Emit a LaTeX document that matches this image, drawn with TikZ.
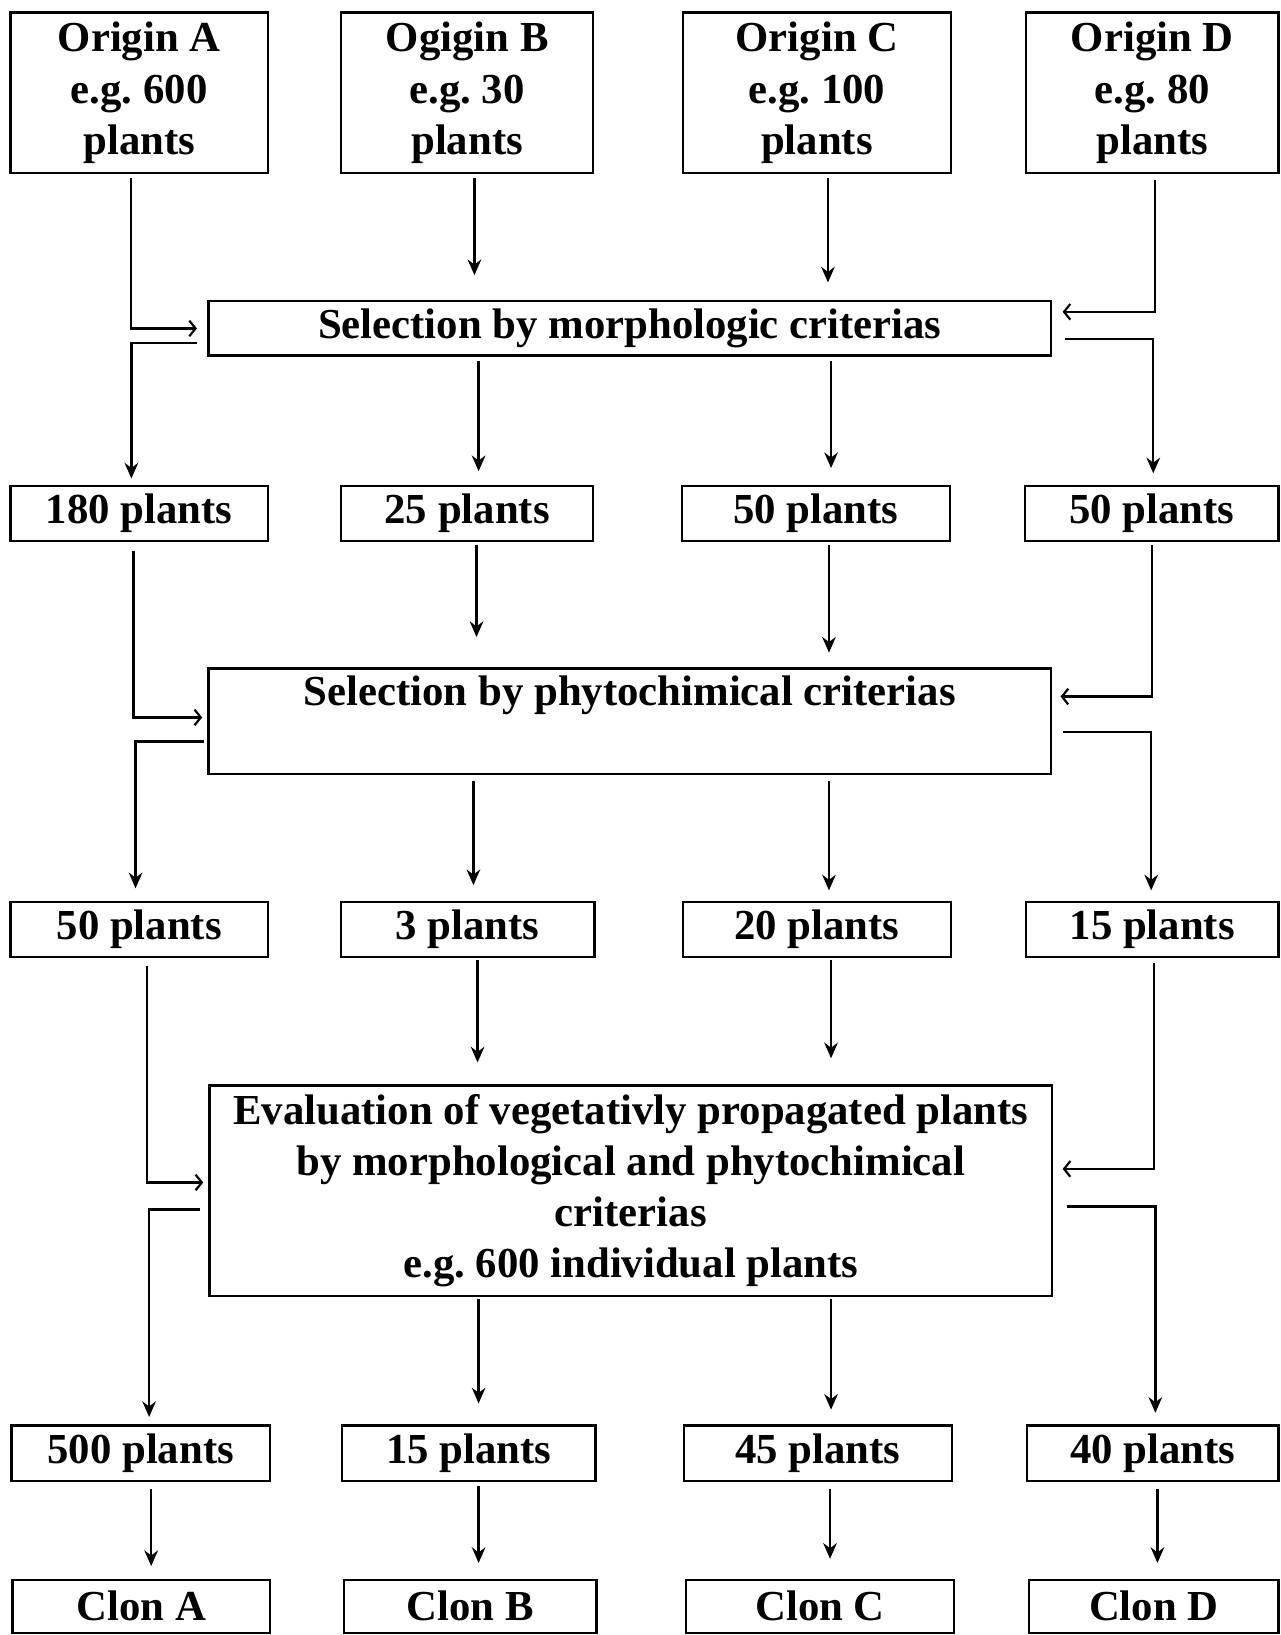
\documentclass[tikz,border=0pt]{standalone}
\usepackage{fontspec}
\setmainfont{Liberation Serif}
\frenchspacing
\usetikzlibrary{arrows.meta,calc}
\tikzset{
  box/.style={draw, line width=2.2pt, inner sep=0pt, align=center,
    font=\fontsize{41}{49}\selectfont\bfseries},
  varr/.style={line width=2.3pt, -{Stealth[length=15pt,width=13pt]}},
  harr/.style={line width=2.1pt, -{Straight Barb[length=6pt,width=15pt,line width=2.1pt]}},
}
\begin{document}
\begin{tikzpicture}[x=1pt,y=-1pt]
\useasboundingbox (0,0) rectangle (1228,1568);
% row 1
\node[box, minimum width=247, minimum height=154] (oA) at (133.5,89) {Origin A\\e.g. 600\\plants};
\node[box, minimum width=242, minimum height=154] (oB) at (448,89) {Ogigin B\\e.g. 30\\plants};
\node[box, minimum width=257, minimum height=154] (oC) at (783.5,89) {Origin C\\e.g. 100\\plants};
\node[box, minimum width=242, minimum height=154] (oD) at (1105,89) {Origin D\\e.g. 80\\plants};
% selection morph
\node[box, minimum width=808, minimum height=52] (sel) at (604,315) {Selection by morphologic criterias};
% row 2
\node[box, minimum width=247, minimum height=53] (r2a) at (133.5,492.5) {180 plants};
\node[box, minimum width=242, minimum height=53] (r2b) at (448,492.5) {25 plants};
\node[box, minimum width=257, minimum height=53] (r2c) at (782.5,492.5) {50 plants};
\node[box, minimum width=243, minimum height=53] (r2d) at (1104.5,492.5) {50 plants};
% phyto
\node[box, minimum width=808, text height=36pt, text depth=65pt] (phyto) at (604,691.5) {Selection by phytochimical criterias};
% row 3
\node[box, minimum width=247, minimum height=53] (r3a) at (133.5,891.5) {50 plants};
\node[box, minimum width=243, minimum height=53] (r3b) at (448.5,891.5) {3 plants};
\node[box, minimum width=257, minimum height=53] (r3c) at (783.5,891.5) {20 plants};
\node[box, minimum width=242, minimum height=53] (r3d) at (1105,891.5) {15 plants};
% evaluation
\node[box, minimum width=808, minimum height=202] (eval) at (605,1142) {Evaluation of vegetativly propagated plants\\by morphological and phytochimical\\criterias\\e.g. 600 individual plants};
% row 4
\node[box, minimum width=248, minimum height=53] (r4a) at (135,1393.5) {500 plants};
\node[box, minimum width=243, minimum height=53] (r4b) at (449.5,1393.5) {15 plants};
\node[box, minimum width=257, minimum height=53] (r4c) at (784.5,1393.5) {45 plants};
\node[box, minimum width=241, minimum height=53] (r4d) at (1105.5,1393.5) {40 plants};
% row 5
\node[box, minimum width=247, minimum height=51] (cA) at (135.5,1540.5) {Clon A};
\node[box, minimum width=242, minimum height=51] (cB) at (451,1540.5) {Clon B};
\node[box, minimum width=257, minimum height=51] (cC) at (786.5,1540.5) {Clon C};
\node[box, minimum width=239, minimum height=51] (cD) at (1106.5,1540.5) {Clon D};

% connectors: origins -> selection
\draw[harr] ($(oA.south)+(-7.5,4)$) |- ($(sel.west)+(-10,0)$);
\draw[varr] ($(sel.west)+(-10,14)$) -| ($(r2a.north)+(-7.5,-6)$);
\draw[varr] ($(oB.south)+(7,4)$) -- ($(oB.south |- sel.north)+(7,-24)$);
\draw[varr] ($(oC.south)+(10.5,4)$) -- ($(oC.south |- sel.north)+(10.5,-17)$);
\draw[harr] ($(oD.south)+(3,6)$) |- ($(sel.east)+(10,-16)$);
\draw[varr] ($(sel.east)+(12,10)$) -| ($(r2d.north)+(1.5,-11)$);
\draw[varr] ($(sel.south -| r2b.north)+(11,4)$) -- ($(r2b.north)+(11,-13)$);
\draw[varr] ($(sel.south -| r2c.north)+(14.5,4)$) -- ($(r2c.north)+(14.5,-16)$);
% row2 -> phyto
\draw[harr] ($(r2a.south)+(-5.5,8)$) |- ($(phyto.west)+(-5,-3.5)$);
\draw[varr] ($(phyto.west)+(-3,19.5)$) -| ($(r3a.north)+(-3.5,-12)$);
\draw[varr] ($(r2b.south)+(9,3)$) -- ($(r2b.south |- phyto.north)+(9,-29)$);
\draw[varr] ($(r2c.south)+(12.5,3)$) -- ($(r2c.south |- phyto.north)+(12.5,-14)$);
\draw[harr] ($(r2d.south)+(0.5,3)$) |- ($(phyto.east)+(8,-23.5)$);
\draw[varr] ($(phyto.east)+(10,10.5)$) -| ($(r3d.north)+(-1,-10)$);
\draw[varr] ($(phyto.south -| r3b.north)+(5.5,6)$) -- ($(r3b.north)+(5.5,-15)$);
\draw[varr] ($(phyto.south -| r3c.north)+(11.5,6)$) -- ($(r3c.north)+(11.5,-10)$);
% row3 -> eval
\draw[harr] ($(r3a.south)+(7.5,7)$) |- ($(eval.west)+(-5,-8)$);
\draw[varr] ($(eval.west)+(-8,18)$) -| ($(r4a.north)+(8,-7)$);
\draw[varr] ($(r3b.south)+(9.5,2)$) -- ($(r3b.south |- eval.north)+(9.5,-21)$);
\draw[varr] ($(r3c.south)+(13.5,2)$) -- ($(r3c.south |- eval.north)+(13.5,-25)$);
\draw[harr] ($(r3d.south)+(2,4)$) |- ($(eval.east)+(9,-21)$);
\draw[varr] ($(eval.east)+(13,15)$) -| ($(r4d.north)+(2.5,-11)$);
\draw[varr] ($(eval.south -| r4b.north)+(9.5,2)$) -- ($(r4b.north)+(9.5,-20)$);
\draw[varr] ($(eval.south -| r4c.north)+(12.5,2)$) -- ($(r4c.north)+(12.5,-14)$);
% row4 -> clones
\draw[varr] ($(r4a.south)+(10,7)$) -- ($(r4a.south |- cA.north)+(10,-12)$);
\draw[varr] ($(r4b.south)+(9.5,4)$) -- ($(r4b.south |- cB.north)+(9.5,-15)$);
\draw[varr] ($(r4c.south)+(11.5,7)$) -- ($(r4c.south |- cC.north)+(11.5,-19)$);
\draw[varr] ($(r4d.south)+(4.5,7)$) -- ($(r4d.south |- cD.north)+(4.5,-15)$);
\end{tikzpicture}
\end{document}
